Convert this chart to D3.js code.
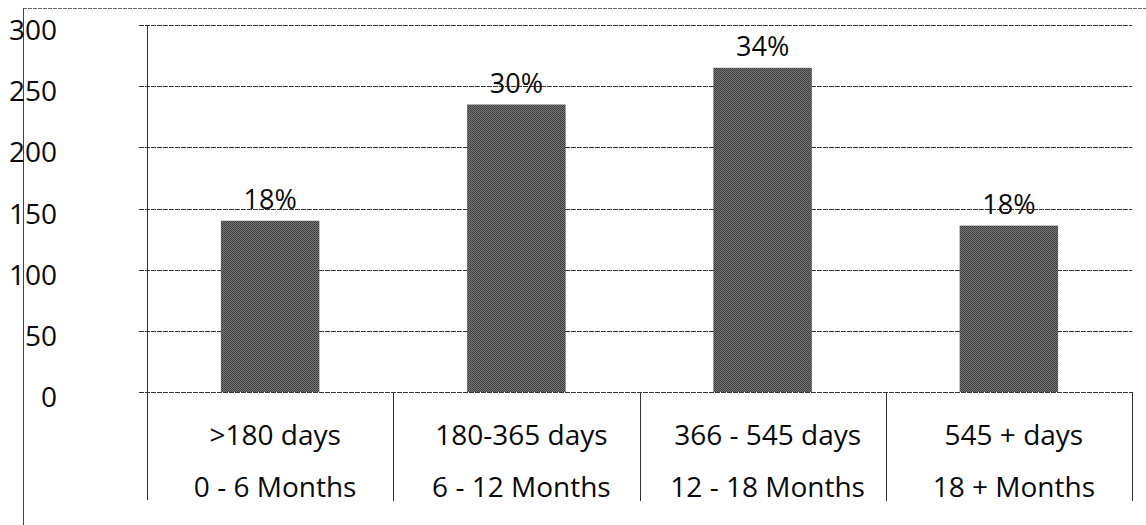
<!DOCTYPE html>
<html>
<head>
<meta charset="utf-8">
<script src="https://cdn.jsdelivr.net/npm/d3@7"></script>
<style>
  html, body { margin: 0; padding: 0; background: #fff; }
  svg { display: block; }
  text { font-family: "Open Sans", Lato, sans-serif; fill: #0a0a0a; }
</style>
</head>
<body>
<svg id="chart" width="1146" height="525"></svg>
<script>
// Case age buckets
const dayLabels = [">180 days", "180-365 days", "366 - 545 days", "545 + days"];
const monthLabels = ["0 - 6 Months", "6 - 12 Months", "12 - 18 Months", "18 + Months"];
const counts = [140, 235, 265, 136];
const shareLabels = ["18%", "30%", "34%", "18%"];
const yTicks = [0, 50, 100, 150, 200, 250, 300];

const svg = d3.select("#chart");
const W = 1146, H = 525;
const plot = { left: 147, right: 1132, top: 25, bottom: 392 };
const fontSize = 28;

// halftone-like fill for the bars
const defs = svg.append("defs");
const pat = defs.append("pattern")
  .attr("id", "grain").attr("width", 2).attr("height", 2)
  .attr("patternUnits", "userSpaceOnUse");
pat.append("rect").attr("width", 2).attr("height", 2).attr("fill", "#777");
pat.append("rect").attr("width", 1).attr("height", 1).attr("fill", "#383838");
pat.append("rect").attr("x", 1).attr("y", 1).attr("width", 1).attr("height", 1).attr("fill", "#454545");

const x = d3.scaleBand()
  .domain(dayLabels)
  .range([plot.left, plot.right])
  .paddingInner(0.6)
  .paddingOuter(0.3);

const y = d3.scaleLinear()
  .domain([0, 300])
  .range([plot.bottom, plot.top]);

// outer frame lines
svg.append("line")
  .attr("x1", 23).attr("x2", W).attr("y1", 8.5).attr("y2", 8.5)
  .attr("stroke", "#666").attr("stroke-width", 1)
  .attr("stroke-dasharray", "4,1");
svg.append("line")
  .attr("x1", 23.5).attr("x2", 23.5).attr("y1", 8).attr("y2", H)
  .attr("stroke", "#444").attr("stroke-width", 1);

// gridlines with small ticks to the left of the axis
svg.append("g")
  .selectAll("line")
  .data(yTicks)
  .join("line")
  .attr("x1", plot.left - 8)
  .attr("x2", plot.right)
  .attr("y1", d => Math.round(y(d)) + 0.5)
  .attr("y2", d => Math.round(y(d)) + 0.5)
  .attr("stroke", "#333")
  .attr("stroke-width", 1)
  .attr("stroke-dasharray", "5,1");

// y labels
svg.append("g")
  .selectAll("text")
  .data(yTicks)
  .join("text")
  .attr("x", 57)
  .attr("y", d => y(d) + 15)
  .attr("text-anchor", "end")
  .attr("font-size", fontSize)
  .text(d => d);

// left axis line
svg.append("line")
  .attr("x1", plot.left + 0.5).attr("x2", plot.left + 0.5)
  .attr("y1", plot.top).attr("y2", 500)
  .attr("stroke", "#333").attr("stroke-width", 1);

// category table dividers and right edge
const step = x.step();
const dividers = d3.range(1, dayLabels.length + 1).map(i => plot.left + i * step);
svg.append("g")
  .selectAll("line")
  .data(dividers)
  .join("line")
  .attr("x1", d => Math.round(d) + 0.5)
  .attr("x2", d => Math.round(d) + 0.5)
  .attr("y1", plot.bottom)
  .attr("y2", 501)
  .attr("stroke", "#333")
  .attr("stroke-width", 1);

// bars
svg.append("g")
  .selectAll("rect")
  .data(counts)
  .join("rect")
  .attr("x", (d, i) => x(dayLabels[i]))
  .attr("width", x.bandwidth())
  .attr("y", d => y(d))
  .attr("height", d => y(0) - y(d))
  .attr("fill", "url(#grain)");

// share labels above bars
svg.append("g")
  .selectAll("text")
  .data(counts)
  .join("text")
  .attr("x", (d, i) => x(dayLabels[i]) + x.bandwidth() / 2)
  .attr("y", d => y(d) - 12)
  .attr("text-anchor", "middle")
  .attr("font-size", fontSize - 1)
  .text((d, i) => shareLabels[i]);

// two-line category labels
const cat = svg.append("g")
  .selectAll("g")
  .data(dayLabels)
  .join("g")
  .attr("transform", d => `translate(${x(d) + x.bandwidth() / 2 + 5},0)`);
cat.append("text")
  .attr("y", 445)
  .attr("text-anchor", "middle")
  .attr("font-size", fontSize)
  .text(d => d);
cat.append("text")
  .attr("y", 497)
  .attr("text-anchor", "middle")
  .attr("font-size", fontSize)
  .text((d, i) => monthLabels[i]);
</script>
</body>
</html>
